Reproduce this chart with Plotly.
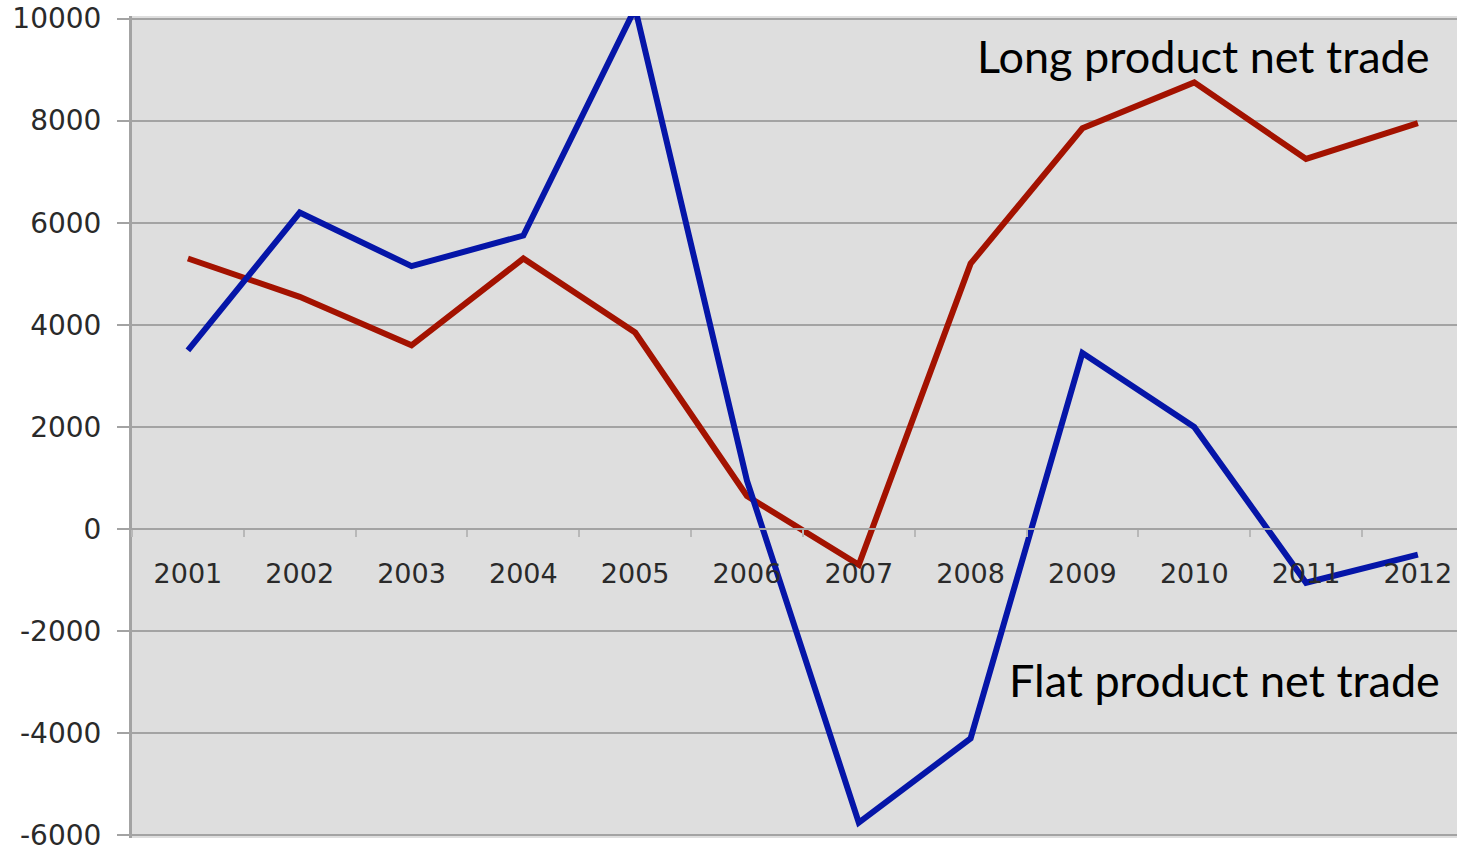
import plotly.graph_objects as go

# Net trade by year (thousand tonnes)
years = ["2001", "2002", "2003", "2004", "2005", "2006",
         "2007", "2008", "2009", "2010", "2011", "2012"]
long_net_trade = [5300, 4550, 3600, 5300, 3850, 650,
                  -700, 5200, 7850, 8750, 7250, 7950]
flat_net_trade = [3500, 6200, 5150, 5750, 10200, 950,
                  -5750, -4100, 3450, 2000, -1050, -500]
y_ticks = [-6000, -4000, -2000, 0, 2000, 4000, 6000, 8000, 10000]
y_tick_labels = ["-6000", "-4000", "-2000", "0", "2000", "4000",
                 "6000", "8000", "10000"]

RED = "#a31200"
BLUE = "#0515a8"
GRID = "#a3a3a3"

fig = go.Figure()
fig.add_trace(go.Scatter(x=years, y=long_net_trade, mode="lines",
                         line=dict(color=RED, width=6), name="Long product net trade"))
fig.add_trace(go.Scatter(x=years, y=flat_net_trade, mode="lines",
                         line=dict(color=BLUE, width=6), name="Flat product net trade"))

fig.update_layout(
    width=1457, height=852,
    margin=dict(l=132, r=0, t=16, b=9),
    paper_bgcolor="white",
    plot_bgcolor="#dedede",
    showlegend=False,
    xaxis=dict(
        type="category",
        range=[-0.5, 11.35],
        anchor="free", position=(0 + 6050) / 16100,
        showgrid=False, zeroline=False,
        showline=True, linecolor=GRID, linewidth=2,
        ticks="outside", tickson="boundaries", ticklen=7,
        tickcolor="#b8b8b8", tickwidth=2,
        ticklabelstandoff=20,
        tickfont=dict(family="DejaVu Sans", size=27, color="#2a2a2a"),
    ),
    yaxis=dict(
        range=[-6050, 10050],
        tickvals=y_ticks, ticktext=y_tick_labels,
        showgrid=True, gridcolor=GRID, gridwidth=2,
        zeroline=False,
        showline=True, linecolor=GRID, linewidth=3,
        ticks="outside", ticklen=12, tickcolor=GRID, tickwidth=2,
        ticklabelstandoff=10, ticklabeloverflow="allow",
        tickfont=dict(family="DejaVu Sans", size=28, color="#2a2a2a"),
    ),
    annotations=[
        dict(text="Long product net trade", xref="paper", yref="y",
             x=0.980, y=9260, xanchor="right", yanchor="middle",
             showarrow=False, font=dict(family="Lato", size=45, color="black")),
        dict(text="Flat product net trade", xref="paper", yref="y",
             x=0.989, y=-2960, xanchor="right", yanchor="middle",
             showarrow=False, font=dict(family="Lato", size=45, color="black")),
    ],
)

fig.write_html("out.html")
